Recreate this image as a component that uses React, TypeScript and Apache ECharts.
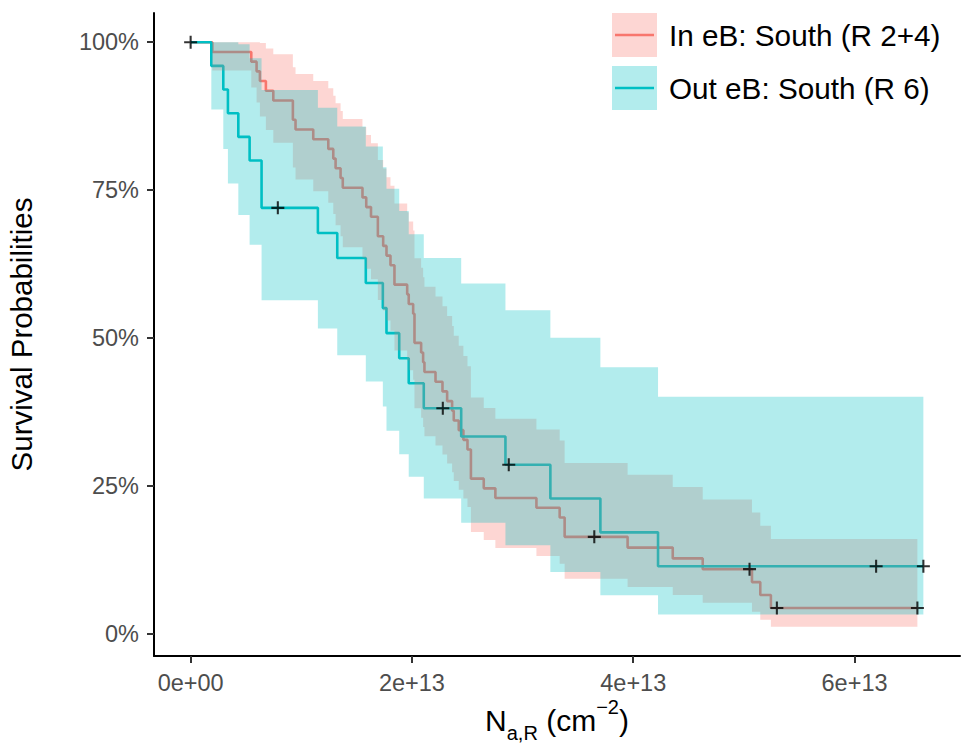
import React, { useEffect, useRef } from "react";
import * as echarts from "echarts";

// x values are given in units of 1e13 cm^-2
const X_UNIT = 1e13;
const xTickValues = [0, 2e13, 4e13, 6e13];
const xTickLabels = ["0e+00", "2e+13", "4e+13", "6e+13"];
const yTickValues = [0, 25, 50, 75, 100];
const yTickLabels = ["0%", "25%", "50%", "75%", "100%"];

const groupNames = ["In eB: South (R 2+4)", "Out eB: South (R 6)"];
const groupColors = ["#F8766D", "#00BFC4"];
const groupFills = ["rgba(248,118,109,0.3)", "rgba(0,191,196,0.3)"];

// In eB: South (R 2+4)
const inTimes = [0, 0.196, 0.548, 0.596, 0.626, 0.68, 0.747, 0.924, 0.948, 1.108, 1.244, 1.289, 1.31, 1.355, 1.375, 1.553, 1.587, 1.63, 1.692, 1.74, 1.77, 1.806, 1.842, 1.957, 1.971, 2.011, 2.023, 2.083, 2.101, 2.113, 2.213, 2.276, 2.318, 2.363, 2.378, 2.423, 2.465, 2.502, 2.533, 2.649, 2.754, 3.125, 3.335, 3.38, 3.949, 4.357, 4.628, 5.073, 5.148, 5.244];
const inSurv = [100, 98.36, 96.72, 95.08, 93.44, 91.8, 90.16, 86.89, 85.25, 83.61, 81.97, 80.33, 78.69, 77.05, 75.41, 73.77, 72.13, 70.49, 67.21, 65.57, 63.93, 62.3, 59.02, 57.38, 55.74, 54.1, 49.18, 47.54, 45.9, 44.26, 42.62, 40.98, 39.34, 37.7, 36.07, 34.43, 32.79, 31.15, 26.23, 24.59, 22.95, 21.31, 19.67, 16.39, 14.57, 12.75, 10.93, 8.74, 6.56, 4.37];
const inLower = [100, 95.23, 92.36, 89.8, 87.43, 85.17, 82.99, 78.82, 76.8, 74.82, 72.87, 70.95, 69.06, 67.19, 65.34, 63.52, 61.71, 59.93, 56.41, 54.67, 52.95, 51.25, 47.88, 46.22, 44.57, 42.93, 38.11, 36.52, 34.95, 33.4, 31.85, 30.33, 28.81, 27.31, 25.82, 24.35, 22.89, 21.45, 17.22, 15.85, 14.49, 13.16, 11.85, 9.3, 7.9, 6.55, 5.26, 3.73, 2.36, 1.19];
const inUpper = [100, 100, 100, 100, 99.86, 98.95, 97.95, 95.79, 94.63, 93.44, 92.21, 90.95, 89.67, 88.36, 87.03, 85.68, 84.31, 82.92, 80.09, 78.65, 77.19, 75.73, 72.75, 71.24, 69.71, 68.17, 63.47, 61.88, 60.28, 58.66, 57.03, 55.38, 53.72, 52.05, 50.38, 48.68, 46.97, 45.24, 39.96, 38.16, 36.35, 34.52, 32.66, 28.89, 26.87, 24.81, 22.71, 20.5, 18.25, 16.02];
const inEnd = 6.568;
const inCensor = [[3.648, 16.39], [5.051, 10.93], [5.298, 4.37], [6.568, 4.37]];

// Out eB: South (R 6)
const outTimes = [0, 0.187, 0.295, 0.337, 0.431, 0.533, 0.641, 1.15, 1.325, 1.583, 1.737, 1.77, 1.885, 1.971, 2.107, 2.445, 2.845, 3.251, 3.703, 4.224];
const outSurv = [100, 96, 92, 88, 84, 80, 72, 67.76, 63.53, 59.29, 55.06, 50.82, 46.59, 42.35, 38.12, 33.35, 28.59, 22.87, 17.15, 11.43];
const outLower = [100, 88.62, 81.96, 76.14, 70.79, 65.76, 56.39, 51.63, 47.07, 42.67, 38.43, 34.33, 30.37, 26.55, 22.88, 18.79, 14.95, 10.45, 6.53, 3.26];
const outUpper = [100, 100, 100, 100, 99.67, 97.3, 91.94, 88.93, 85.74, 82.38, 78.88, 75.23, 71.47, 67.55, 63.51, 59.2, 54.69, 50.03, 45.05, 40.06];
const outEnd = 6.622;
const outCensor = [[0, 100], [0.788, 72], [2.279, 38.12], [2.875, 28.59], [6.195, 11.43], [6.622, 11.43]];

const FONT = "'Liberation Sans', Arial, Helvetica, sans-serif";

function stepData(times: number[], surv: number[], end: number) {
  const d = times.map((t, i) => [t * X_UNIT, surv[i]]);
  d.push([end * X_UNIT, surv[surv.length - 1]]);
  return d;
}

function lineSeries(name: string, times: number[], surv: number[], end: number, color: string) {
  return {
    type: "line",
    name,
    step: "end",
    z: 1,
    silent: true,
    showSymbol: false,
    symbol: "none",
    data: stepData(times, surv, end),
    lineStyle: { color, width: 2.6 },
  };
}

function ribbonSeries(times: number[], lower: number[], upper: number[], end: number, fill: string, z: number) {
  return {
    type: "custom",
    z,
    silent: true,
    coordinateSystem: "cartesian2d",
    data: [[0, 100]],
    renderItem: (_params: any, api: any) => {
      const pts: number[][] = [];
      const n = times.length;
      for (let i = 0; i < n; i++) {
        const t0 = times[i] * X_UNIT;
        const t1 = (i + 1 < n ? times[i + 1] : end) * X_UNIT;
        pts.push(api.coord([t0, upper[i]]), api.coord([t1, upper[i]]));
      }
      for (let i = n - 1; i >= 0; i--) {
        const t0 = times[i] * X_UNIT;
        const t1 = (i + 1 < n ? times[i + 1] : end) * X_UNIT;
        pts.push(api.coord([t1, lower[i]]), api.coord([t0, lower[i]]));
      }
      return { type: "polygon", shape: { points: pts }, style: { fill } };
    },
  };
}

const CROSS = "path://M-1,-0.16L1,-0.16L1,0.16L-1,0.16Z M-0.16,-1L0.16,-1L0.16,1L-0.16,1Z";

function labelFor(values: number[], labels: string[]) {
  return (v: number) => {
    for (let i = 0; i < values.length; i++) {
      if (Math.abs(values[i] - v) <= Math.abs(values[i]) * 1e-9 + 1e-9) return labels[i];
    }
    return "";
  };
}

export default function App() {
  const ref = useRef<HTMLDivElement>(null);
  useEffect(() => {
    if (!ref.current) return;
    const chart = echarts.init(ref.current, null, { renderer: "svg" });
    const legendY = [35, 88];
    const legendGraphics: any[] = [];
    groupNames.forEach((name, i) => {
      const top = i === 0 ? 13 : 66;
      legendGraphics.push(
        { type: "rect", z: 100, shape: { x: 612, y: top, width: 45, height: 44 }, style: { fill: groupFills[i] } },
        { type: "line", z: 101, shape: { x1: 615, y1: legendY[i], x2: 654, y2: legendY[i] }, style: { stroke: groupColors[i], lineWidth: 2.6 } },
        { type: "text", z: 101, x: 669, y: legendY[i], style: { text: name, fontSize: 29.7, fontFamily: FONT, fill: "#000", verticalAlign: "middle", align: "left" } }
      );
    });

    const option: any = {
      animation: false,
      backgroundColor: "#fff",
      grid: { left: 154, right: 20, top: 13, bottom: 94, containLabel: false, outerBoundsMode: "none" },
      xAxis: {
        type: "value",
        min: -0.3311 * X_UNIT,
        max: 6.953 * X_UNIT,
        axisLine: { show: true, onZero: false, lineStyle: { color: "#000", width: 2 } },
        axisTick: { show: true, customValues: xTickValues, length: 7, lineStyle: { color: "#333", width: 2 } },
        axisLabel: { customValues: xTickValues, formatter: labelFor(xTickValues, xTickLabels), color: "#4D4D4D", fontSize: 23.5, fontFamily: FONT, margin: 15 },
        splitLine: { show: false },
        name: "{n|N}{sub|a,R}{n| (cm}{sup|\u22122}{n|)}",
        nameLocation: "middle",
        nameGap: 41,
        nameMoveOverlap: false,
        nameTextStyle: {
          color: "#000",
          fontFamily: FONT,
          fontSize: 30,
          rich: {
            n: { fontSize: 30, lineHeight: 46, verticalAlign: "middle", fontFamily: FONT, color: "#000" },
            sub: { fontSize: 20, lineHeight: 20, verticalAlign: "bottom", fontFamily: FONT, color: "#000" },
            sup: { fontSize: 20, lineHeight: 20, verticalAlign: "top", fontFamily: FONT, color: "#000" },
          },
        },
      },
      yAxis: {
        type: "value",
        min: -3.75,
        max: 104.94,
        axisLine: { show: true, onZero: false, lineStyle: { color: "#000", width: 2 } },
        axisTick: { show: true, customValues: yTickValues, length: 7, lineStyle: { color: "#333", width: 2 } },
        axisLabel: { customValues: yTickValues, formatter: labelFor(yTickValues, yTickLabels), color: "#4D4D4D", fontSize: 23.5, fontFamily: FONT, margin: 15 },
        splitLine: { show: false },
        name: "Survival Probabilities",
        nameLocation: "middle",
        nameGap: 118,
        nameMoveOverlap: false,
        nameTextStyle: { color: "#000", fontFamily: FONT, fontSize: 29.5 },
      },
      series: [
        lineSeries(groupNames[0], inTimes, inSurv, inEnd, groupColors[0]),
        lineSeries(groupNames[1], outTimes, outSurv, outEnd, groupColors[1]),
        ribbonSeries(inTimes, inLower, inUpper, inEnd, groupFills[0], 2),
        ribbonSeries(outTimes, outLower, outUpper, outEnd, groupFills[1], 3),
        {
          type: "scatter",
          z: 4,
          silent: true,
          symbol: CROSS,
          symbolSize: 13,
          itemStyle: { color: "#000" },
          data: [...inCensor, ...outCensor].map((p) => [p[0] * X_UNIT, p[1]]),
        },
      ],
      graphic: legendGraphics,
    };
    chart.setOption(option);
    return () => chart.dispose();
  }, []);
  return (
    <div
      ref={ref}
      style={{ position: "fixed", left: 0, top: 0, width: 980, height: 750, background: "#fff" }}
    />
  );
}
